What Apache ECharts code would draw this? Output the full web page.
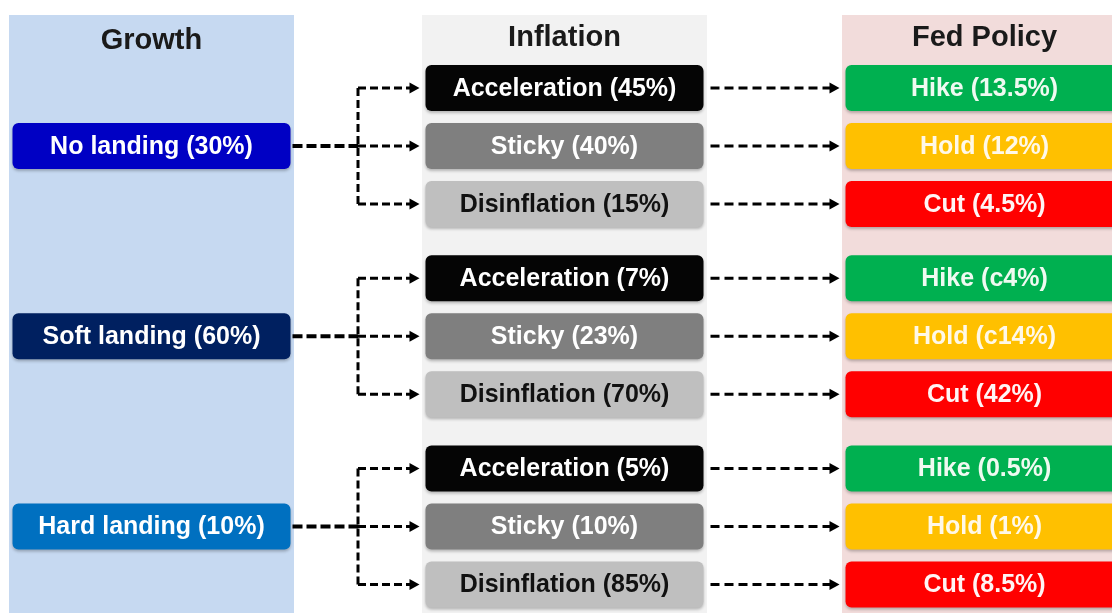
<!DOCTYPE html>
<html>
<head>
<meta charset="utf-8">
<script src="https://cdn.jsdelivr.net/npm/echarts@6/dist/echarts.min.js"></script>
<style>
  html, body { margin: 0; padding: 0; background: #ffffff; }
  #chart { width: 1112px; height: 613px; }
</style>
</head>
<body>
<div id="chart"></div>
<script>
// Scenario tree: growth outcome -> inflation path -> Fed response (probabilities in %)
const columnTitles = ['Growth', 'Inflation', 'Fed Policy'];
const growthNames = ['No landing', 'Soft landing', 'Hard landing'];
const growthShares = [30, 60, 10];
const inflationNames = ['Acceleration', 'Sticky', 'Disinflation'];
const inflationShares = [[45, 40, 15], [7, 23, 70], [5, 10, 85]];
const fedNames = ['Hike', 'Hold', 'Cut'];
const fedShares = [[13.5, 12, 4.5], [4, 14, 42], [0.5, 1, 8.5]];
// "c" = circa, an approximate figure
const fedApprox = [[false, false, false], [true, true, false], [false, false, false]];

// ---- layout (axis units: one column = 1 on x, one box row = 1 on y) ----
const COL_X = [0, 1, 2.017];
const GROUP_STEP = 3.28;
const JUNCTION_X = 0.5;
const HEADER_ROW = -0.86;
const PANEL_TOP_ROW = -1.26;
const BOX_W = 278, BOX_H = 46, PANEL_W = 285;
const FONT = '"Liberation Sans", Arial, Helvetica, sans-serif';
const rowOf = (g, i) => g * GROUP_STEP + i;

const panelColors = ['#c6d9f1', '#f2f2f2', '#f2dcdb'];
const growthColors = ['#0000c4', '#002060', '#0070c0'];
const inflationColors = ['#050505', '#7f7f7f', '#bfbfbf'];
const inflationText = ['#ffffff', '#ffffff', '#111111'];
const fedColors = ['#00b050', '#ffc000', '#ff0000'];
const fedText = ['#effaf1', '#fff8e8', '#fff4f4'];

function box(api, fill, textFill, text) {
  const p = api.coord([api.value(0), api.value(1)]);
  return {
    type: 'group',
    children: [
      {
        type: 'rect',
        shape: { x: p[0] - BOX_W / 2, y: p[1] - BOX_H / 2, width: BOX_W, height: BOX_H, r: 6 },
        style: { fill: fill, shadowBlur: 3, shadowOffsetY: 2, shadowColor: 'rgba(0,0,0,0.25)' }
      },
      {
        type: 'text',
        style: {
          x: p[0], y: p[1] + 1, text: text, fill: textFill,
          font: 'bold 25px ' + FONT, align: 'center', verticalAlign: 'middle'
        }
      }
    ]
  };
}

function dashedArrow(x1, x2, y, width, dash) {
  const head = 10;
  return [
    {
      type: 'line',
      shape: { x1: x1, y1: y, x2: x2 - head + 1, y2: y },
      style: { stroke: '#000', lineWidth: width, lineDash: dash }
    },
    {
      type: 'polygon',
      shape: { points: [[x2, y], [x2 - head, y - 5.5], [x2 - head, y + 5.5]] },
      style: { fill: '#000' }
    }
  ];
}

const panelData = columnTitles.map((t, c) => [COL_X[c], HEADER_ROW]);
const growthData = growthNames.map((n, g) => [COL_X[0], rowOf(g, 1)]);
const inflationData = [];
const fedData = [];
inflationShares.forEach((row, g) => row.forEach((v, i) => {
  inflationData.push([COL_X[1], rowOf(g, i), g, i]);
  fedData.push([COL_X[2], rowOf(g, i), g, i]);
}));
const junctionData = growthNames.map((n, g) => [JUNCTION_X, rowOf(g, 1)]);

const chart = echarts.init(document.getElementById('chart'));
chart.setOption({
  animation: false,
  backgroundColor: '#ffffff',
  grid: { left: 0, right: 0, top: 0, bottom: 0 },
  xAxis: { type: 'value', min: -151.5 / 413, max: (1112 - 151.5) / 413, show: false },
  yAxis: { type: 'value', inverse: true, min: -88 / 58, max: (613 - 88) / 58, show: false },
  series: [
    {
      name: 'panels', type: 'custom', data: panelData, silent: true, z: 1,
      renderItem: function (params, api) {
        const c = params.dataIndex;
        const p = api.coord([api.value(0), api.value(1)]);
        const top = api.coord([api.value(0), PANEL_TOP_ROW])[1];
        const bottom = params.coordSys.y + params.coordSys.height;
        return {
          type: 'group',
          children: [
            {
              type: 'rect',
              shape: { x: p[0] - PANEL_W / 2, y: top, width: PANEL_W, height: bottom - top },
              style: { fill: panelColors[c] }
            },
            {
              type: 'text',
              style: {
                x: p[0], y: p[1] + (c === 0 ? 3 : 0), text: columnTitles[c], fill: '#1a1a1a',
                font: 'bold 29px ' + FONT, align: 'center', verticalAlign: 'middle'
              }
            }
          ]
        };
      }
    },
    {
      name: 'connectors', type: 'custom', data: junctionData, silent: true, z: 2,
      renderItem: function (params, api) {
        const g = params.dataIndex;
        const j = api.coord([api.value(0), api.value(1)]);
        const gp = api.coord([COL_X[0], rowOf(g, 1)]);
        const top = api.coord([COL_X[1], rowOf(g, 0)]);
        const bot = api.coord([COL_X[1], rowOf(g, 2)]);
        const children = [
          {
            type: 'line',
            shape: { x1: gp[0] + BOX_W / 2 + 2, y1: j[1], x2: j[0], y2: j[1] },
            style: { stroke: '#000', lineWidth: 4, lineDash: [10, 4] }
          },
          {
            type: 'line',
            shape: { x1: j[0], y1: top[1], x2: j[0], y2: bot[1] },
            style: { stroke: '#000', lineWidth: 3, lineDash: [8, 4] }
          }
        ];
        for (let i = 0; i < inflationNames.length; i++) {
          const ip = api.coord([COL_X[1], rowOf(g, i)]);
          const fp = api.coord([COL_X[2], rowOf(g, i)]);
          children.push(...dashedArrow(j[0], ip[0] - BOX_W / 2 - 6, ip[1], 3, [8, 4]));
          children.push(...dashedArrow(ip[0] + BOX_W / 2 + 7, fp[0] - BOX_W / 2 - 6, ip[1], 3, [9, 5]));
        }
        return { type: 'group', children: children };
      }
    },
    {
      name: 'Growth', type: 'custom', data: growthData, z: 3,
      renderItem: function (params, api) {
        const g = params.dataIndex;
        return box(api, growthColors[g], '#ffffff', growthNames[g] + ' (' + growthShares[g] + '%)');
      }
    },
    {
      name: 'Inflation', type: 'custom', data: inflationData, z: 3,
      renderItem: function (params, api) {
        const g = api.value(2), i = api.value(3);
        return box(api, inflationColors[i], inflationText[i],
          inflationNames[i] + ' (' + inflationShares[g][i] + '%)');
      }
    },
    {
      name: 'Fed Policy', type: 'custom', data: fedData, z: 3,
      renderItem: function (params, api) {
        const g = api.value(2), i = api.value(3);
        const v = (fedApprox[g][i] ? 'c' : '') + fedShares[g][i] + '%';
        return box(api, fedColors[i], fedText[i], fedNames[i] + ' (' + v + ')');
      }
    }
  ]
});
</script>
</body>
</html>
